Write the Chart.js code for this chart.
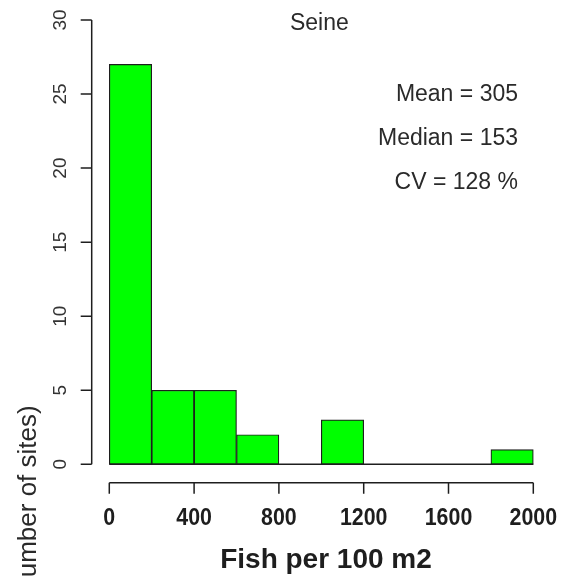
<!DOCTYPE html>
<html>
<head>
<meta charset="utf-8">
<script src="https://cdn.jsdelivr.net/npm/chart.js@4.4.1/dist/chart.umd.min.js"></script>
<style>
  html, body { margin: 0; padding: 0; background: #ffffff; }
  #wrap { width: 561px; height: 579px; position: relative; }
</style>
</head>
<body>
<div id="wrap"><canvas id="c" width="561" height="579"></canvas></div>
<script>
// ---- data ----
const binStarts = [0, 200, 400, 600, 800, 1000, 1200, 1400, 1600, 1800];
const binWidth = 200;
const counts = [27, 5, 5, 2, 0, 3, 0, 0, 0, 1];
const xTicks = [0, 400, 800, 1200, 1600, 2000];
const yTicks = [0, 5, 10, 15, 20, 25, 30];
const titleText = 'Seine';
const statLines = ['Mean = 305', 'Median = 153', 'CV = 128 %'];
const xTitle = 'Fish per 100 m2';
const yTitle = '(Number of sites)';

const FONT = "'Liberation Sans', Arial, sans-serif";
const INK = '#1e1e1e';

const histPoints = binStarts.map((s, i) => ({ x: s + binWidth / 2, y: counts[i] }));

const rAxes = {
  id: 'rAxes',
  afterDatasetsDraw(chart) {
    const ctx = chart.ctx;
    const xs = chart.scales.x, ys = chart.scales.y;
    const area = chart.chartArea;
    const xMin = xTicks[0], xMax = xTicks[xTicks.length - 1];
    const yMin = yTicks[0], yMax = yTicks[yTicks.length - 1];
    ctx.save();
    ctx.strokeStyle = INK;
    ctx.fillStyle = INK;
    ctx.lineWidth = 1.5;
    ctx.lineCap = 'butt';

    // baseline of histogram (zero-count bins)
    const y0 = ys.getPixelForValue(0);
    ctx.beginPath();
    ctx.moveTo(xs.getPixelForValue(binStarts[0]), y0);
    ctx.lineTo(xs.getPixelForValue(binStarts[binStarts.length - 1] + binWidth), y0);
    ctx.stroke();

    // y axis
    const ax = area.left;
    ctx.beginPath();
    ctx.moveTo(ax, ys.getPixelForValue(yMin));
    ctx.lineTo(ax, ys.getPixelForValue(yMax));
    yTicks.forEach(t => {
      const py = ys.getPixelForValue(t);
      ctx.moveTo(ax, py);
      ctx.lineTo(ax - 11, py);
    });
    ctx.stroke();
    ctx.font = '19px ' + FONT;
    ctx.fillStyle = '#333333';
    ctx.textAlign = 'center';
    ctx.textBaseline = 'middle';
    yTicks.forEach(t => {
      const py = ys.getPixelForValue(t);
      ctx.save();
      ctx.translate(ax - 31, py);
      ctx.rotate(-Math.PI / 2);
      ctx.fillText(String(t), 0, 0);
      ctx.restore();
    });

    // x axis
    ctx.fillStyle = INK;
    const ay = area.bottom;
    ctx.beginPath();
    ctx.moveTo(xs.getPixelForValue(xMin), ay);
    ctx.lineTo(xs.getPixelForValue(xMax), ay);
    xTicks.forEach(t => {
      const px = xs.getPixelForValue(t);
      ctx.moveTo(px, ay);
      ctx.lineTo(px, ay + 11);
    });
    ctx.stroke();
    ctx.font = 'bold 23px ' + FONT;
    ctx.textAlign = 'center';
    ctx.textBaseline = 'middle';
    xTicks.forEach(t => {
      ctx.save();
      ctx.translate(xs.getPixelForValue(t), ay + 36);
      ctx.scale(0.93, 1);
      ctx.fillText(String(t), 0, 0);
      ctx.restore();
    });

    // x title
    ctx.font = 'bold 28px ' + FONT;
    ctx.fillText(xTitle, 326, ay + 78);

    // y title (rotated)
    ctx.font = '26px ' + FONT;
    ctx.fillStyle = '#2a2a2a';
    ctx.save();
    ctx.translate(29, 505);
    ctx.rotate(-Math.PI / 2);
    ctx.fillText(yTitle, 0, 0);
    ctx.restore();

    // main title
    ctx.font = '23px ' + FONT;
    ctx.fillText(titleText, (xs.getPixelForValue(xMin) + xs.getPixelForValue(xMax)) / 2 - 2, 24);

    // stats
    ctx.textAlign = 'right';
    const statY = [95, 139, 183];
    statLines.forEach((s, i) => ctx.fillText(s, 518, statY[i]));
    ctx.restore();
  }
};

new Chart(document.getElementById('c'), {
  type: 'bar',
  data: {
    datasets: [{
      data: histPoints,
      backgroundColor: '#00ff00',
      borderColor: INK,
      borderWidth: 1.2,
      borderSkipped: false,
      barPercentage: 1.0,
      categoryPercentage: 1.0
    }]
  },
  options: {
    responsive: false,
    animation: false,
    events: [],
    layout: { padding: { left: 91.7, right: 10.1, top: 1.6, bottom: 96.3 } },
    plugins: { legend: { display: false }, tooltip: { enabled: false }, title: { display: false } },
    scales: {
      x: { type: 'linear', display: false, min: -83, max: 2083, offset: false, grid: { display: false } },
      y: { type: 'linear', display: false, min: -1.24, max: 31.24, grid: { display: false } }
    }
  },
  plugins: [rAxes]
});
</script>
</body>
</html>
